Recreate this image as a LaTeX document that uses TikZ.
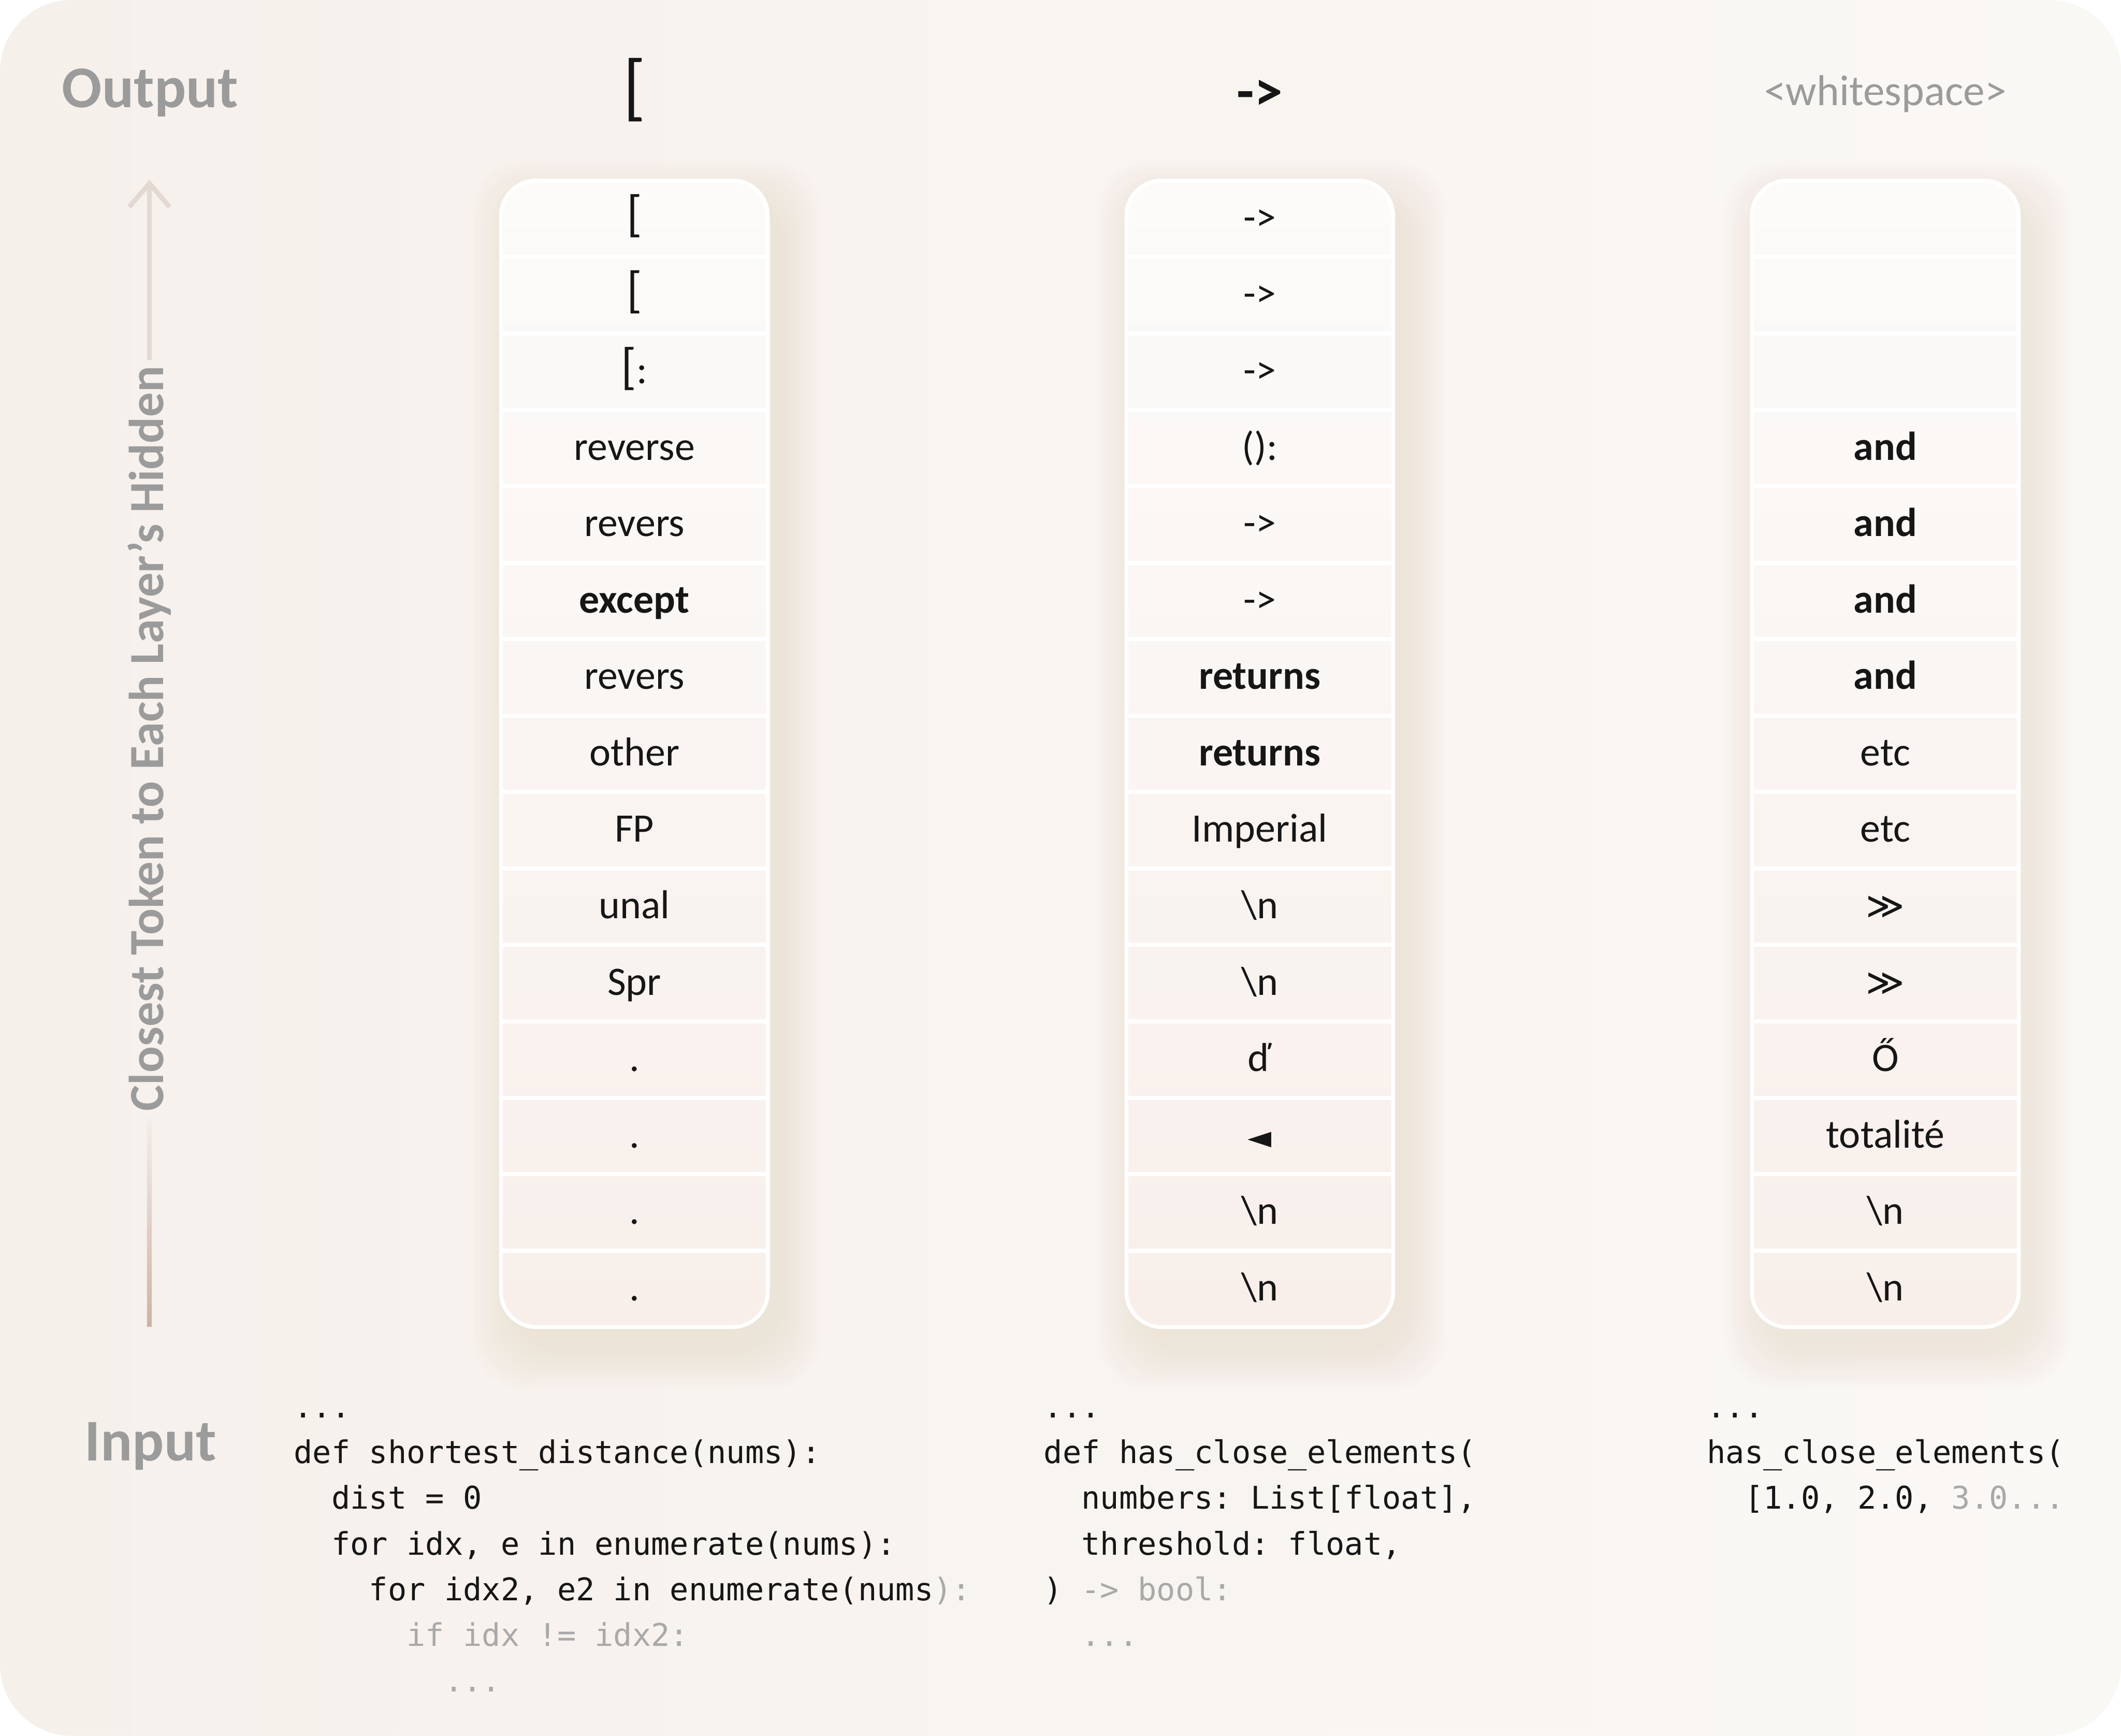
\documentclass[tikz,border=0pt]{standalone}
\usepackage{fontspec}
\setmainfont{Carlito}
\setmonofont{DejaVu Sans Mono}
\newfontfamily\symfont{DejaVu Sans}
\usepackage{tikz}
\usetikzlibrary{positioning,arrows.meta}

\definecolor{bgwarm}{HTML}{F6F0EB}
\definecolor{bglight}{HTML}{FAF8F5}
\definecolor{celltop}{HTML}{FCFBFA}
\definecolor{cellbot}{HTML}{F8EFEA}
\definecolor{labelgrey}{HTML}{9B9B9B}
\definecolor{codegrey}{HTML}{A9A9A9}
\definecolor{inkblack}{HTML}{161616}
\definecolor{arrowtan}{HTML}{CDB3A7}
\definecolor{arrowpale}{HTML}{F3EEEA}
\definecolor{arrowtop}{HTML}{E4D9D2}
\definecolor{shadowtan}{HTML}{8A6F5A}

% indent by n characters of the code font
\newcommand{\ind}[1]{\hspace*{#1\fontcharwd\font`\x}}
\newcommand{\nl}{\textbackslash n}
\newcommand{\tallbr}{{\fontsize{17}{20}\selectfont[}}

\begin{document}
\begin{tikzpicture}[
    colframe/.style={
        draw=white,
        line width=1.3pt,
        rounded corners=0.42cm,
        minimum width=3.17cm,
        minimum height=13.62cm,
        top color=celltop,
        bottom color=cellbot,
        inner sep=0pt,
        outer sep=0pt
    },
    cell/.style={
        minimum width=3.17cm,
        minimum height=0.908cm,
        inner sep=0pt,
        outer sep=0pt,
        text=inkblack,
        font=\fontsize{13.65}{16}\selectfont,
        text height=9.2pt,
        text depth=1.2pt
    },
    outtok/.style={
        text=inkblack,
        font=\bfseries\fontsize{19.2}{22}\selectfont,
        text height=7.2pt,
        text depth=2pt
    },
    sidelbl/.style={
        text=labelgrey,
        font=\bfseries\fontsize{20}{24}\selectfont,
        inner sep=0pt
    },
    ylab/.style={
        text=labelgrey,
        font=\bfseries\fontsize{16.6}{19}\selectfont,
        inner sep=2pt,
        rotate=90
    },
    code/.style={
        text=inkblack,
        font=\ttfamily\fontsize{10.56}{15.44}\selectfont,
        align=left,
        inner sep=0pt,
        anchor=north west
    },
    sepline/.style={draw=white, line width=1.4pt},
    shadowlayer/.style={fill=shadowtan, opacity=0.009, rounded corners=0.6cm},
    arrowline/.style={
        draw=arrowtop,
        line width=0.0575cm,
        -{Straight Barb[length=0.28cm, width=0.48cm]}
    }
]

% canvas
\useasboundingbox (0,0) rectangle (25.2,20.62);
\fill[white] (0,0) rectangle (25.2,20.62);
\shade[rounded corners=0.85cm, left color=bgwarm, right color=bglight]
    (0,0) rectangle (25.2,20.62);

% side labels and the layer arrow
\node[sidelbl, anchor=base] (outlbl) at (1.785,19.34) {Output};
\node[sidelbl, anchor=base] (inlbl) at (1.79,3.27) {Input};
\node[ylab] (ylbl) at (1.775,11.845) {Closest Token to Each Layer’s Hidden};
\coordinate (abot) at (1.775,4.86);
\coordinate (atop) at (1.775,18.485);
\shade[bottom color=arrowtan, top color=arrowpale]
    ([xshift=-0.029cm]abot) rectangle ([xshift=0.029cm]ylbl.west);
\draw[arrowline] (ylbl.east) -- (atop);

% soft shadows under the columns
\foreach \cx in {7.5375,14.9675,22.40}
    \foreach \k in {1,...,12}
        \path[shadowlayer]
            ({\cx-1.585+0.15-0.04*\k},{4.855-0.25-0.04*\k}) rectangle
            ({\cx+1.585+0.15+0.04*\k},{18.475-0.25+0.04*\k});

% column frames
\node[colframe] (colS) at (7.5375,11.665) {};
\node[colframe] (colH) at (14.9675,11.665) {};
\node[colframe] (colW) at (22.40,11.665) {};

% outputs
\node[outtok, font=\fontsize{25}{28}\selectfont] (outS) at (7.5375,19.386) {[};
\node[outtok] (outH) at (14.9675,19.40) {->};
\node[outtok, font=\fontsize{14.6}{17}\selectfont, text=labelgrey] (outW) at (22.40,19.457) {<whitespace>};

% column 1
\node[cell, below=0pt of colS.north] (s1) {\tallbr};
\node[cell, below=0pt of s1] (s2) {\tallbr};
\node[cell, below=0pt of s2] (s3) {\tallbr:};
\node[cell, below=0pt of s3] (s4) {reverse};
\node[cell, below=0pt of s4] (s5) {revers};
\node[cell, below=0pt of s5] (s6) {\textbf{except}};
\node[cell, below=0pt of s6] (s7) {revers};
\node[cell, below=0pt of s7] (s8) {other};
\node[cell, below=0pt of s8] (s9) {FP};
\node[cell, below=0pt of s9] (s10) {unal};
\node[cell, below=0pt of s10] (s11) {Spr};
\node[cell, below=0pt of s11] (s12) {.};
\node[cell, below=0pt of s12] (s13) {.};
\node[cell, below=0pt of s13] (s14) {.};
\node[cell, below=0pt of s14] (s15) {.};

% column 2
\node[cell, below=0pt of colH.north] (h1) {->};
\node[cell, below=0pt of h1] (h2) {->};
\node[cell, below=0pt of h2] (h3) {->};
\node[cell, below=0pt of h3] (h4) {():};
\node[cell, below=0pt of h4] (h5) {->};
\node[cell, below=0pt of h5] (h6) {->};
\node[cell, below=0pt of h6] (h7) {\textbf{returns}};
\node[cell, below=0pt of h7] (h8) {\textbf{returns}};
\node[cell, below=0pt of h8] (h9) {Imperial};
\node[cell, below=0pt of h9] (h10) {\nl};
\node[cell, below=0pt of h10] (h11) {\nl};
\node[cell, below=0pt of h11] (h12) {ď};
\node[cell, below=0pt of h12] (h13) {{\symfont\fontsize{10.5}{12}\selectfont ◄}};
\node[cell, below=0pt of h13] (h14) {\nl};
\node[cell, below=0pt of h14] (h15) {\nl};

% column 3
\node[cell, below=0pt of colW.north] (w1) {};
\node[cell, below=0pt of w1] (w2) {};
\node[cell, below=0pt of w2] (w3) {};
\node[cell, below=0pt of w3] (w4) {\textbf{and}};
\node[cell, below=0pt of w4] (w5) {\textbf{and}};
\node[cell, below=0pt of w5] (w6) {\textbf{and}};
\node[cell, below=0pt of w6] (w7) {\textbf{and}};
\node[cell, below=0pt of w7] (w8) {etc};
\node[cell, below=0pt of w8] (w9) {etc};
\node[cell, below=0pt of w9] (w10) {{\symfont\fontsize{12.5}{14}\selectfont ≫}};
\node[cell, below=0pt of w10] (w11) {{\symfont\fontsize{12.5}{14}\selectfont ≫}};
\node[cell, below=0pt of w11] (w12) {Ő};
\node[cell, below=0pt of w12] (w13) {totalité};
\node[cell, below=0pt of w13] (w14) {\nl};
\node[cell, below=0pt of w14] (w15) {\nl};

% row separators
\foreach \c in {s,h,w}
    \foreach \i in {1,...,14}
        \draw[sepline] (\c\i.south west) -- (\c\i.south east);

% inputs
\node[code] (inS) at (3.485,4.165) {\strut...\\
def shortest\_distance(nums):\\
\ind{2}dist = 0\\
\ind{2}for idx, e in enumerate(nums):\\
\ind{4}for idx2, e2 in enumerate(nums\textcolor{codegrey}{):}\\
\textcolor{codegrey}{\ind{6}if idx != idx2:}\\
\textcolor{codegrey}{\ind{8}...}};

\node[code] (inH) at (12.395,4.165) {\strut...\\
def has\_close\_elements(\\
\ind{2}numbers: List[float],\\
\ind{2}threshold: float,\\
) \textcolor{codegrey}{-> bool:}\\
\textcolor{codegrey}{\ind{2}...}};

\node[code] (inW) at (20.275,4.165) {\strut...\\
has\_close\_elements(\\
\ind{2}[1.0, 2.0, \textcolor{codegrey}{3.0...}};

\end{tikzpicture}
\end{document}
